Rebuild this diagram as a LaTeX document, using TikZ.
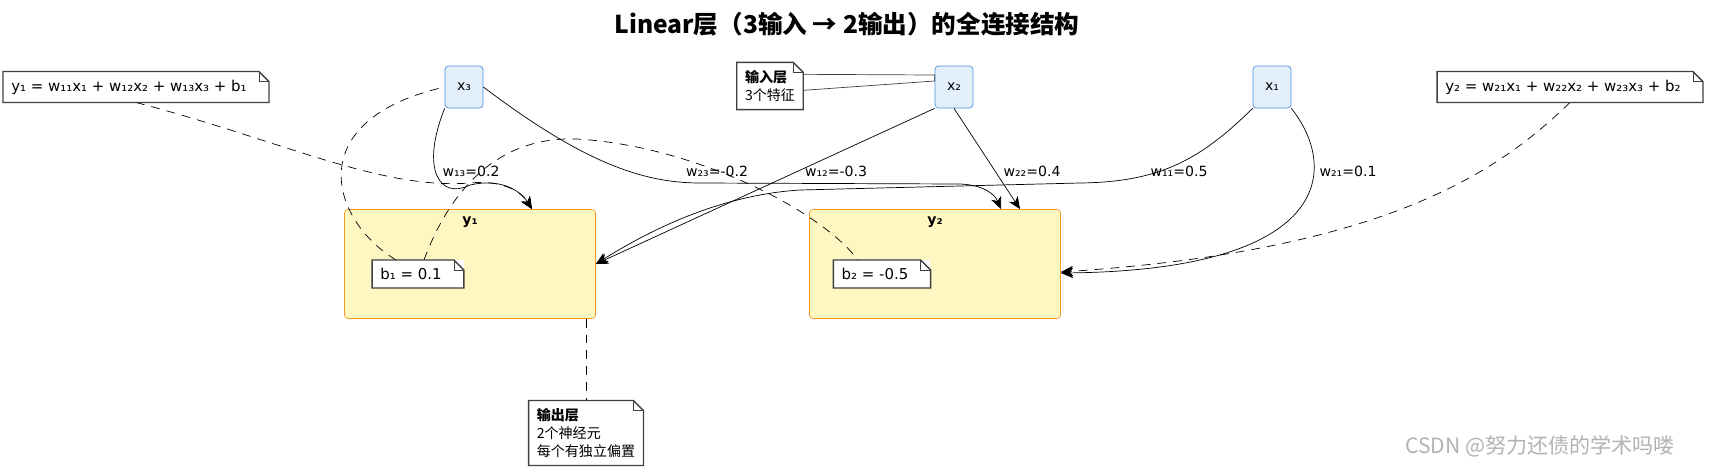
\documentclass[tikz,border=0pt]{standalone}
\usepackage{fontspec}
\setmainfont{DejaVu Sans}
\newfontfamily\cjk{Noto Sans CJK SC}
\usetikzlibrary{calc, arrows.meta}

\definecolor{inputfill}{HTML}{E3F0FB}
\definecolor{inputline}{HTML}{4A90D9}
\definecolor{neuronfill}{HTML}{FFF7C2}
\definecolor{neuronline}{HTML}{F59A23}

\tikzset{
    input/.style={draw=inputline, fill=inputfill, rounded corners=2, minimum width=0.76cm, minimum height=0.84cm, font=\fontsize{8}{9}\selectfont},
    neuron/.style={draw=neuronline, fill=neuronfill, rounded corners=2, minimum width=5.02cm, minimum height=2.18cm},
    note/.style={fill=white, inner sep=4.5pt, align=left, font=\fontsize{8.5}{10.5}\selectfont},
    weight/.style={font=\fontsize{8}{9}\selectfont, inner sep=1pt},
    link/.style={-{Stealth[length=7pt, width=6pt, inset=2pt]}, black},
    hint/.style={dashed, dash pattern=on 5pt off 4pt}
}
% folded-corner outline around a note node
\newcommand{\foldnote}[1]{
    \draw [thick, black!75] (#1.south west) -- (#1.north west) -- ($(#1.north east) + (-10, 0)$)
        -- ($(#1.north east) + (0, 10)$) -- (#1.south east) -- cycle;
    \draw [black!75] ($(#1.north east) + (-10, 0)$) -- ($(#1.north east) + (-10, 10)$)
        -- ($(#1.north east) + (0, 10)$);
}

\begin{document}
\begin{tikzpicture}[x=0.02cm, y=-0.02cm]
    \useasboundingbox (0, 0) rectangle (1713, 474);

    \node (title) at (847, 24) [font=\cjk\bfseries\fontsize{14}{16}\selectfont] 
        {Linear层（3输入 → 2输出）的全连接结构};

    % Inputs
    \node (x3) at (464, 87) [input] {x₃};
    \node (x2) at (954, 87) [input] {x₂};
    \node (x1) at (1272, 87) [input] {x₁};

    % Outputs
    \node (y1) at (470, 264) [neuron] {};
    \node (y2) at (935, 264) [neuron] {};
    \node (y1_label) at (470, 222) [font=\bfseries\fontsize{8}{9}\selectfont] {y₁};
    \node (y2_label) at (935, 222) [font=\bfseries\fontsize{8}{9}\selectfont] {y₂};

    % Weighted connections
    \draw [link] (x3.south west) .. controls (420, 170) and (440, 200) .. (470, 185)
        .. controls (500, 178) and (520, 190) .. ($(y1.north) + (62, 0)$);
    \draw [link] (x3.east) .. controls (580, 160) and (640, 183) .. (700, 183)
        -- (960, 184) .. controls (985, 185) and (995, 195) .. ($(y2.north) + (66, 0)$);
    \draw [link] (x2.south west) -- (y1.east);
    \draw [link] (x2.south) -- ($(y2.north) + (85, 0)$);
    \draw [link] (x1.south west) .. controls (1200, 160) and (1160, 182) .. (1080, 183)
        -- (800, 190) .. controls (720, 195) and (650, 230) .. (y1.east);
    \draw [link] (x1.south east) .. controls (1340, 170) and (1330, 270) .. ($(y2.east) + (0, 9)$);

    \node (w13) at (471, 171) [weight] {w₁₃=0.2};
    \node (w23) at (717, 171) [weight] {w₂₃=-0.2};
    \node (w12) at (836, 171) [weight] {w₁₂=-0.3};
    \node (w22) at (1032, 171) [weight] {w₂₂=0.4};
    \node (w11) at (1179, 171) [weight] {w₁₁=0.5};
    \node (w21) at (1348, 171) [weight] {w₂₁=0.1};

    % Notes
    \node (eq1) at (136, 87) [note] {y₁ = w₁₁x₁ + w₁₂x₂ + w₁₃x₃ + b₁\hspace{8pt}};
    \node (eq2) at (1570, 87) [note] {y₂ = w₂₁x₁ + w₂₂x₂ + w₂₃x₃ + b₂\hspace{8pt}};
    \node (b1) at (418, 274) [note] {b₁ = 0.1\hspace{8pt}};
    \node (b2) at (882, 274) [note] {b₂ = -0.5\hspace{8pt}};
    \node (in_note) at (770, 86) [note, font=\cjk\fontsize{8}{10}\selectfont] 
        {\textbf{输入层}\hspace{6pt}\\3个特征};
    \node (out_note) at (586, 433) [note, font=\cjk\fontsize{8}{10}\selectfont] 
        {\textbf{输出层}\\2个神经元\\每个有独立偏置};

    \draw [hint, link] (eq1.south) .. controls (280, 140) and (380, 190) .. (470, 183)
        .. controls (500, 180) and (520, 190) .. ($(y1.north) + (62, 0)$);
    \draw [hint, link] (eq2.south) .. controls (1500, 170) and (1390, 250) .. ($(y2.east) + (0, 8)$);
    \draw [hint] (b1.north) ++(-22, 0) coordinate (b1_a) 
        .. controls (330, 220) and (300, 120) .. (x3.west);
    \draw [hint] (b1.north) ++(6, 0) coordinate (b1_b)
        .. controls (450, 190) and (500, 130) .. (590, 140)
        .. controls (700, 150) and (820, 210) .. ($(b2.north) + (-24, 0)$);
    \draw [hint] (y1.south -| out_note) -- (out_note.north);

    \draw [white, fill=white] ($(in_note.north east) + (0, 12)$) -- (x2.west) -- ($(in_note.north east) + (0, 28)$);
    \draw [black!75] ($(in_note.north east) + (0, 12)$) -- ($(x2.west) + (0, -12)$)
        -- ($(x2.west) + (0, -6)$) -- ($(in_note.north east) + (0, 28)$);

    \foldnote{eq1}
    \foldnote{eq2}
    \foldnote{b1}
    \foldnote{b2}
    \foldnote{in_note}
    \foldnote{out_note}

    \node (mark) at (1540, 446) [font=\cjk\fontsize{12}{14}\selectfont, text=black!30] {CSDN @努力还债的学术吗喽};
\end{tikzpicture}
\end{document}
